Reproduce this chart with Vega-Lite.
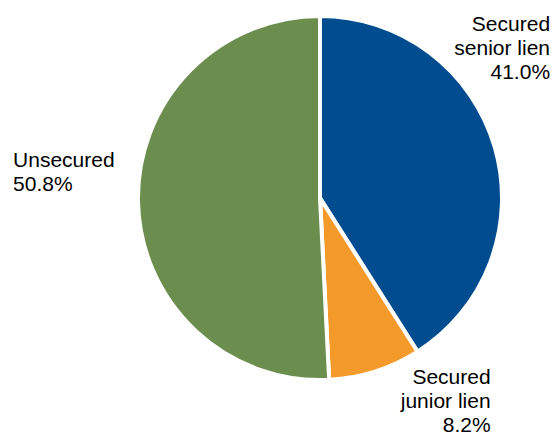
{
  "$schema": "https://vega.github.io/schema/vega-lite/v6.json",
  "width": 360,
  "height": 360,
  "padding": {"left": 140, "top": 18, "right": 53, "bottom": 59},
  "autosize": {"type": "none"},
  "background": "white",
  "config": {"view": {"stroke": null}},
  "data": {
    "values": [
      {"category": "Secured senior lien", "share": 41.0, "rank": 1, "lines": ["Secured", "senior lien", "41.0%"]},
      {"category": "Secured junior lien", "share": 8.2, "rank": 2, "lines": ["Secured", "junior lien", "8.2%"]},
      {"category": "Unsecured", "share": 50.8, "rank": 3, "lines": ["Unsecured", "50.8%"]}
    ]
  },
  "encoding": {
    "theta": {"field": "share", "type": "quantitative", "stack": true},
    "order": {"field": "rank", "type": "quantitative"}
  },
  "layer": [
    {
      "mark": {"type": "arc", "outerRadius": 182, "stroke": "white", "strokeWidth": 4},
      "encoding": {
        "color": {
          "field": "category",
          "type": "nominal",
          "scale": {
            "domain": ["Secured senior lien", "Secured junior lien", "Unsecured"],
            "range": ["#004C8F", "#F39A2B", "#6B8E4E"]
          },
          "legend": null
        }
      }
    },
    {
      "mark": {"type": "text", "radius": 200, "align": "right", "baseline": "alphabetic", "dx": 38, "dy": -111, "font": "Liberation Sans", "fontSize": 21, "lineHeight": 24, "color": "black"},
      "encoding": {"text": {"condition": {"test": "datum.rank === 1", "field": "lines"}, "value": ""}}
    },
    {
      "mark": {"type": "text", "radius": 200, "align": "right", "baseline": "alphabetic", "dx": 110, "dy": -5, "font": "Liberation Sans", "fontSize": 21, "lineHeight": 24, "color": "black"},
      "encoding": {"text": {"condition": {"test": "datum.rank === 2", "field": "lines"}, "value": ""}}
    },
    {
      "mark": {"type": "text", "radius": 200, "align": "left", "baseline": "alphabetic", "dx": -107, "dy": -36, "font": "Liberation Sans", "fontSize": 21, "lineHeight": 24, "color": "black"},
      "encoding": {"text": {"condition": {"test": "datum.rank === 3", "field": "lines"}, "value": ""}}
    }
  ]
}
